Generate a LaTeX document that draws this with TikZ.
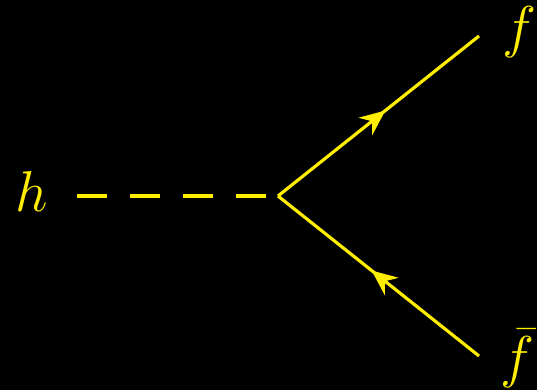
\documentclass[tikz,border=0pt]{standalone}
\usetikzlibrary{arrows.meta,decorations.markings}
\definecolor{fcolor}{RGB}{255,238,0}
\tikzset{
  scalar/.style={draw=fcolor, line width=0.95pt, dash pattern=on 9pt off 6.9pt},
  fermion/.style={draw=fcolor, line width=0.95pt,
    postaction={decorate, decoration={markings,
      mark=at position 0.535 with {\arrow[fcolor]{Stealth[length=7.6pt,width=6.6pt]}}}}},
  plabel/.style={text=fcolor, inner sep=0pt, anchor=base, font=\fontsize{16}{19}\selectfont},
}
\begin{document}
\begin{tikzpicture}[x=0.3pt, y=-0.3pt]
% background, sized as the picture
\fill[black] (0,0) rectangle (537,390);
\useasboundingbox (0,0) rectangle (537,390);
% end points of the lines
\coordinate (hs) at (77,196);
\coordinate (v) at (278,196);
\coordinate (fe) at (479,36);
\coordinate (fbe) at (479,356);
% labels
\node[plabel] (h) at (32,212) {$h$};
\node[plabel] (f) at (519,47) {$f$};
\node[plabel] (fb) at (517,377) {$\bar{f}$};
% Higgs line and fermion pair
\draw[scalar] (hs) -- (v);
\draw[fermion] (v) -- (fe);
\draw[fermion] (fbe) -- (v);
\end{tikzpicture}
\end{document}
